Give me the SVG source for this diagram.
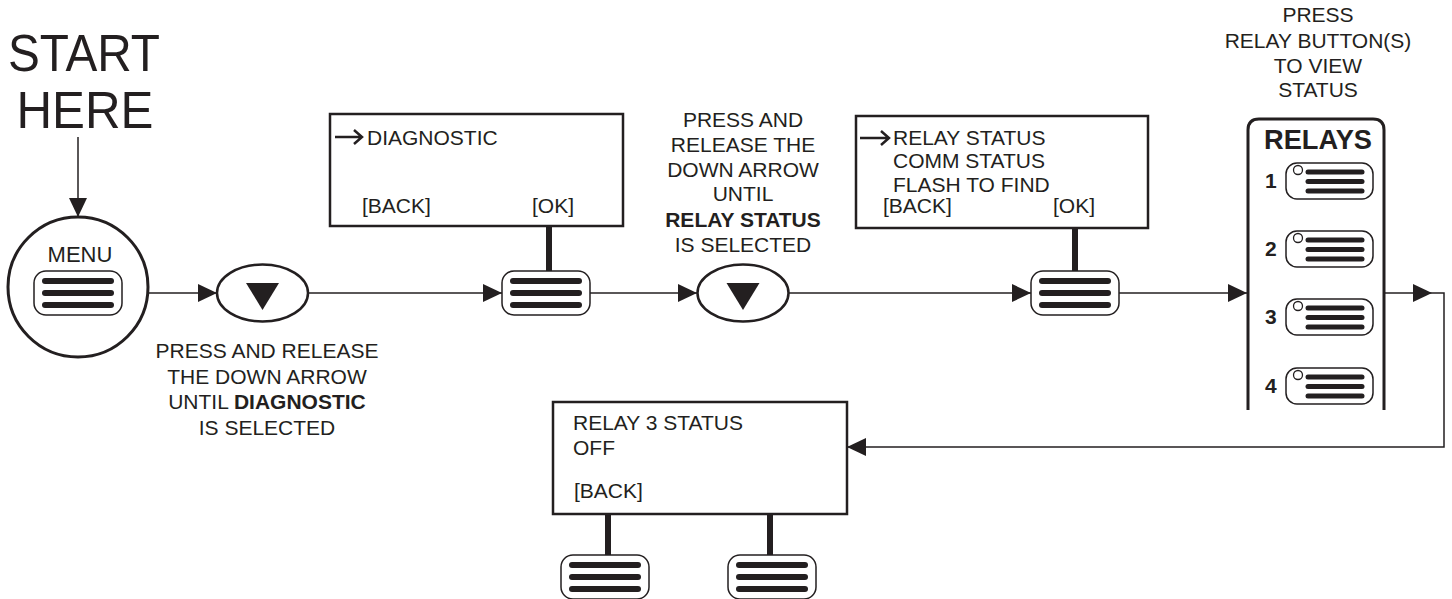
<svg xmlns="http://www.w3.org/2000/svg" xmlns:xlink="http://www.w3.org/1999/xlink" width="1452" height="599" viewBox="0 0 1452 599">
<style>
  text { font-family: "Liberation Sans", Arial, sans-serif; fill: #231f20; }
  .t { font-size: 21px; }
  .c { text-anchor: middle; }
  .b { font-weight: bold; }
  .box { fill: #fff; stroke: #231f20; stroke-width: 2.5; }
  .conn { fill: none; stroke: #231f20; stroke-width: 1.5; }
  .stem { stroke: #231f20; stroke-width: 6; }
  .btn { fill: #fff; stroke: #231f20; stroke-width: 1.5; }
  .bar { stroke: #231f20; stroke-width: 6; stroke-linecap: round; }
  .rbar { stroke: #231f20; stroke-width: 5; stroke-linecap: round; }
  .oval { fill: #fff; stroke: #231f20; stroke-width: 2.5; }
  .tri { fill: #231f20; }
  .sel { fill: none; stroke: #231f20; stroke-width: 2.5; }
</style>
<defs>
  <marker id="ah" markerUnits="userSpaceOnUse" markerWidth="19" markerHeight="18" refX="19" refY="9" orient="auto">
    <path d="M0,0 L19,9 L0,18 Z" fill="#231f20"/>
  </marker>
  <g id="button">
    <rect x="0" y="0" width="88" height="44" rx="12" class="btn"/>
    <line x1="11" y1="10" x2="77" y2="10" class="bar"/>
    <line x1="11" y1="22" x2="77" y2="22" class="bar"/>
    <line x1="11" y1="34" x2="77" y2="34" class="bar"/>
  </g>
  <g id="relaybtn">
    <rect x="0" y="0" width="87" height="36" rx="11" class="btn"/>
    <circle cx="12" cy="7" r="4.5" fill="#fff" stroke="#231f20" stroke-width="1.3"/>
    <line x1="22" y1="9" x2="76" y2="9" class="rbar"/>
    <line x1="22" y1="18.5" x2="76" y2="18.5" class="rbar"/>
    <line x1="22" y1="28" x2="76" y2="28" class="rbar"/>
  </g>
  <g id="downbtn">
    <ellipse cx="0" cy="0" rx="45.5" ry="28.5" class="oval"/>
    <path d="M-16.5,-10 L16.5,-10 L0,17 Z" class="tri"/>
  </g>
</defs>

<g id="connectors">
  <line x1="78" y1="137" x2="78" y2="217" class="conn" marker-end="url(#ah)"/>
  <line x1="148" y1="293" x2="217" y2="293" class="conn" marker-end="url(#ah)"/>
  <line x1="308" y1="293" x2="502" y2="293" class="conn" marker-end="url(#ah)"/>
  <line x1="590" y1="293" x2="697" y2="293" class="conn" marker-end="url(#ah)"/>
  <line x1="789" y1="293" x2="1031" y2="293" class="conn" marker-end="url(#ah)"/>
  <line x1="1119" y1="293" x2="1247" y2="293" class="conn" marker-end="url(#ah)"/>
  <line x1="1384" y1="293" x2="1432" y2="293" class="conn" marker-end="url(#ah)"/>
  <path d="M1432,293 L1444,293 L1444,447 L847,447" class="conn" marker-end="url(#ah)"/>
  <line x1="549" y1="226" x2="549" y2="271" class="stem"/>
  <line x1="1075" y1="228" x2="1075" y2="271" class="stem"/>
  <line x1="608" y1="514" x2="608" y2="555" class="stem"/>
  <line x1="770" y1="514" x2="770" y2="555" class="stem"/>
</g>

<g id="start">
  <text x="84" y="71" font-size="52" class="c" textLength="152" lengthAdjust="spacingAndGlyphs">START</text>
  <text x="85" y="128" font-size="52" class="c" textLength="137" lengthAdjust="spacingAndGlyphs">HERE</text>
</g>

<g id="menu">
  <circle cx="78" cy="287" r="70" fill="#fff" stroke="#231f20" stroke-width="3"/>
  <text x="80" y="262" font-size="22" class="c">MENU</text>
  <use xlink:href="#button" x="34" y="271"/>
</g>

<g id="down1">
  <use xlink:href="#downbtn" x="262.5" y="293"/>
  <text class="t c" x="267" y="358">PRESS AND RELEASE</text>
  <text class="t c" x="267" y="384">THE DOWN ARROW</text>
  <text class="t c" x="267" y="409">UNTIL <tspan class="b">DIAGNOSTIC</tspan></text>
  <text class="t c" x="267" y="435">IS SELECTED</text>
</g>

<g id="screen-diagnostic">
  <rect x="330" y="114" width="293" height="112" class="box"/>
  <path d="M335,137 L362,137 M354,130 L362,137 L354,144" class="sel"/>
  <text class="t" x="367" y="145">DIAGNOSTIC</text>
  <text class="t" x="362" y="213">[BACK]</text>
  <text class="t" x="532" y="213">[OK]</text>
</g>

<g id="ok1">
  <use xlink:href="#button" x="502" y="271"/>
</g>

<g id="down2">
  <use xlink:href="#downbtn" x="743" y="293"/>
  <text class="t c" x="743" y="127">PRESS AND</text>
  <text class="t c" x="743" y="152">RELEASE THE</text>
  <text class="t c" x="743" y="177">DOWN ARROW</text>
  <text class="t c" x="743" y="201">UNTIL</text>
  <text class="t c b" x="743" y="227">RELAY STATUS</text>
  <text class="t c" x="743" y="252">IS SELECTED</text>
</g>

<g id="screen-relay">
  <rect x="856" y="116" width="292" height="112" class="box"/>
  <path d="M860,138 L889,138 M881,131 L889,138 L881,145" class="sel"/>
  <text class="t" x="893" y="145">RELAY STATUS</text>
  <text class="t" x="893" y="168">COMM STATUS</text>
  <text class="t" x="893" y="192">FLASH TO FIND</text>
  <text class="t" x="883" y="213">[BACK]</text>
  <text class="t" x="1053" y="213">[OK]</text>
</g>

<g id="ok2">
  <use xlink:href="#button" x="1031" y="271"/>
</g>

<g id="relays">
  <text class="t c" x="1318" y="22">PRESS</text>
  <text class="t c" x="1318" y="48">RELAY BUTTON(S)</text>
  <text class="t c" x="1318" y="73">TO VIEW</text>
  <text class="t c" x="1318" y="97">STATUS</text>
  <path d="M1248,410 L1248,130 Q1248,119 1259,119 L1373,119 Q1384,119 1384,130 L1384,410" fill="#fff" stroke="#231f20" stroke-width="3"/>
  <text x="1318" y="149" font-size="28" class="c b" textLength="108" lengthAdjust="spacingAndGlyphs">RELAYS</text>
  <text class="t b" x="1265" y="188">1</text>
  <text class="t b" x="1265" y="256">2</text>
  <text class="t b" x="1265" y="324">3</text>
  <text class="t b" x="1265" y="393">4</text>
  <use xlink:href="#relaybtn" x="1286" y="163"/>
  <use xlink:href="#relaybtn" x="1286" y="231"/>
  <use xlink:href="#relaybtn" x="1286" y="299"/>
  <use xlink:href="#relaybtn" x="1286" y="368"/>
</g>

<g id="screen-status">
  <rect x="553" y="402" width="294" height="112" class="box"/>
  <text class="t" x="573" y="430">RELAY 3 STATUS</text>
  <text class="t" x="573" y="455">OFF</text>
  <text class="t" x="574" y="498">[BACK]</text>
</g>

<g id="status-buttons">
  <use xlink:href="#button" x="561" y="555"/>
  <use xlink:href="#button" x="728" y="555"/>
</g>
</svg>
